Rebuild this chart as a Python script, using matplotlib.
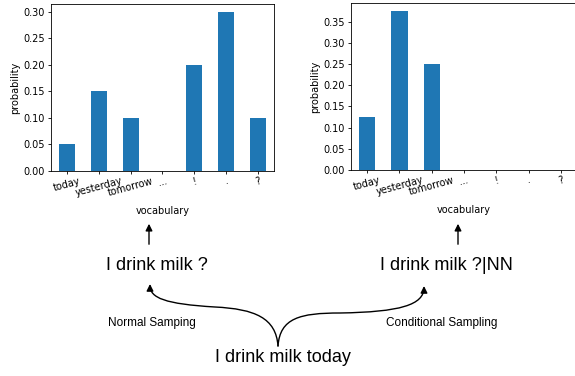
import matplotlib.pyplot as plt
from matplotlib.patches import FancyArrowPatch
from matplotlib.path import Path

# vocabulary and probabilities for the two sampling schemes
vocab = ['today', 'yesterday', 'tomorrow', '...', '!', '.', '?']
normal_probs = [0.05, 0.15, 0.10, 0.0, 0.20, 0.30, 0.10]
cond_probs = [0.125, 0.375, 0.25, 0.0, 0.0, 0.0, 0.0]

W, H = 575, 376
fig = plt.figure(figsize=(W / 100, H / 100), dpi=100)

plt.rcParams['font.size'] = 7
plt.rcParams['axes.linewidth'] = 0.6
plt.rcParams['xtick.major.size'] = 2.5
plt.rcParams['ytick.major.size'] = 2.5
plt.rcParams['xtick.major.width'] = 0.6
plt.rcParams['ytick.major.width'] = 0.6


def bar_panel(rect, probs):
    ax = fig.add_axes(rect)
    x = range(len(vocab))
    ax.bar(x, probs, width=0.5, color='#1f77b4')
    ax.set_xlim(-0.5, len(vocab) - 0.5)
    ax.set_ylim(0, max(probs) * 1.05)
    ax.set_xticks(list(x))
    ax.set_xticklabels(vocab, rotation=15, fontsize=7)
    ax.tick_params(axis='y', labelsize=7, pad=2)
    ax.tick_params(axis='x', pad=1)
    ax.set_ylabel('probability', fontsize=7, labelpad=2)
    ax.set_xlabel('vocabulary', fontsize=7, labelpad=6)
    return ax


ax1 = bar_panel([51 / W, 1 - 171 / H, 223 / W, 167 / H], normal_probs)
ax1.set_yticks([0, 0.05, 0.10, 0.15, 0.20, 0.25, 0.30])
ax2 = bar_panel([351 / W, 1 - 170 / H, 226 / W, 167 / H], cond_probs)
ax2.set_yticks([0, 0.05, 0.10, 0.15, 0.20, 0.25, 0.30, 0.35])

# overlay for the diagram below the charts (pixel coordinates)
ov = fig.add_axes([0, 0, 1, 1], zorder=-1)
ov.set_xlim(0, W)
ov.set_ylim(H, 0)
ov.axis('off')

font = 'Liberation Sans'
ov.text(157, 265, 'I drink milk ?', ha='center', va='center', fontsize=13, family=font)
ov.text(446, 265, 'I drink milk ?|NN', ha='center', va='center', fontsize=13, family=font)
ov.text(283, 358, 'I drink milk today', ha='center', va='center', fontsize=13, family=font)
ov.text(152, 323, 'Normal Samping', ha='center', va='center', fontsize=8.5, family=font)
ov.text(442, 323, 'Conditional Sampling', ha='center', va='center', fontsize=8.5, family=font)

arrow_kw = dict(arrowstyle='-|>', mutation_scale=10, color='black', lw=1)
for ax_x in (149, 458):
    ov.add_patch(FancyArrowPatch((ax_x, 247), (ax_x, 221), **arrow_kw))

codes = [Path.MOVETO] + [Path.CURVE4] * 6
left = Path([(278, 346), (276, 318), (255, 309), (215, 307),
             (165, 304), (150, 298), (150, 284)], codes)
right = Path([(278, 346), (280, 318), (300, 313), (340, 313),
              (400, 312), (424, 305), (424, 286)], codes)
ov.add_patch(FancyArrowPatch(path=left, **arrow_kw))
ov.add_patch(FancyArrowPatch(path=right, **arrow_kw))

plt.savefig('out.png', dpi=100)
